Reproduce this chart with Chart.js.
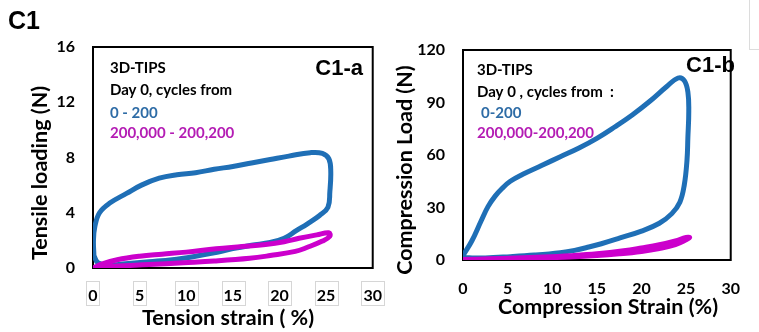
<!DOCTYPE html>
<html><head><meta charset="utf-8">
<script src="https://cdn.jsdelivr.net/npm/chart.js@4.4.1/dist/chart.umd.min.js"></script>
<style>
html,body{margin:0;padding:0;background:#fff;width:759px;height:332px;overflow:hidden;}
#wrap{position:relative;width:759px;height:332px;background:#fff;}
canvas{position:absolute;top:0;}
#cA{left:0;} #cB{left:380px;}
</style></head><body>
<div id="wrap"><canvas id="cA" width="400" height="332"></canvas><canvas id="cB" width="379" height="332"></canvas></div>
<script>
// ---- C1-a : tension, cycles 0-200 (blue) ----
const tenStrainA = [0.1, 0.05, 0.2, 0.7, 1.8, 3.6, 5.2, 7.1, 9.0, 11, 13, 15, 17, 19, 21, 23.3, 24.6, 25.3, 25.5, 25.4, 25.2, 24.3, 23, 21.8, 20.5, 19, 17, 15, 13, 11, 8.5, 6, 3.5, 1.5, 0.5, 0.1];
const tenLoadA   = [0.9, 2.0, 3.0, 4.0, 4.7, 5.4, 6.0, 6.5, 6.75, 6.9, 7.15, 7.35, 7.6, 7.85, 8.1, 8.35, 8.3, 7.9, 7.0, 5.5, 4.4, 3.8, 3.2, 2.7, 2.15, 1.85, 1.65, 1.4, 1.1, 0.85, 0.6, 0.45, 0.3, 0.2, 0.4, 0.9];
// ---- C1-a : tension, cycles 200,000-200,200 (magenta) ----
const tenStrainB = [0, 1, 2.6, 5, 7.4, 10, 13.2, 16, 18.5, 20.5, 22.1, 24, 25.3, 25.4, 24.6, 23, 21.7, 19, 16.8, 13, 9.7, 6, 2.6, 0.5, 0];
const tenLoadB   = [0, 0.3, 0.6, 0.85, 1.0, 1.15, 1.4, 1.55, 1.7, 1.9, 2.15, 2.4, 2.55, 2.3, 1.95, 1.5, 1.2, 0.9, 0.7, 0.5, 0.38, 0.25, 0.15, 0.05, 0];
// ---- C1-b : compression, cycles 0-200 (blue) ----
const compStrainA = [0, 1, 2, 2.8, 3.6, 4.4, 5.3, 6.7, 8.8, 10.9, 13, 15, 17, 19, 21, 22.8, 24.1, 24.8, 25.2, 25.3, 25.2, 25.1, 24.8, 24.3, 23.4, 22, 20, 17.6, 15.5, 14.1, 12.5, 10.9, 8, 5.3, 2.5, 0.3, 0];
const compLoadA   = [2.5, 11, 22, 30.5, 36.5, 41, 45, 49, 54, 59, 64, 69.5, 76, 83, 91, 99, 104, 102.5, 96, 85, 70, 57, 43, 33, 26.5, 21, 16.5, 12.6, 9.3, 7.4, 5.5, 4.2, 2.8, 1.9, 1.2, 1.5, 2.5];
// ---- C1-b : compression, cycles 200,000-200,200 (magenta) ----
const compStrainB = [0, 3, 6, 9, 12, 15, 17.5, 20, 22, 23.8, 25.0, 25.4, 25.0, 23.8, 22, 20, 18, 15, 12, 9, 6, 3, 0];
const compLoadB   = [0.3, 0.6, 0.9, 1.2, 1.7, 2.5, 3.5, 4.9, 6.6, 8.8, 11.5, 12.8, 12.9, 10.9, 8.7, 6.9, 5.3, 3.6, 2.5, 1.7, 1.1, 0.7, 0.3];

const xTicks = [0, 5, 10, 15, 20, 25, 30];
const yTicksA = [0, 4, 8, 12, 16];
const yTicksB = [0, 30, 60, 90, 120];
const seriesNames = ['0 - 200', '200,000 - 200,200'];

const BLUE = '#1f6fb6', MAG = '#cc00cc';
const BLUE_TXT = '#2e6ca6', MAG_TXT = '#b41cb4';
const LATO = 'Lato, "Open Sans", sans-serif';
const ARIAL = '"Liberation Sans", Arial, sans-serif';

const pts = (xs, ys) => xs.map((x, i) => ({x, y: ys[i]}));

function decor(opts) {
  return {
    id: 'decor',
    beforeDatasetsDraw(chart) {
      const ctx = chart.ctx, a = chart.chartArea;
      ctx.save();
      ctx.strokeStyle = '#000'; ctx.lineWidth = 2;
      ctx.strokeRect(a.left, a.top, a.right - a.left, a.bottom - a.top);
      ctx.restore();
    },
    afterDraw(chart) {
      const ctx = chart.ctx;
      ctx.save();
      ctx.textBaseline = 'middle';
      for (const t of opts.texts) {
        ctx.save();
        ctx.font = t.font; ctx.fillStyle = t.color || '#000';
        ctx.textAlign = t.align || 'left';
        ctx.translate(t.x, t.y);
        if (t.rot) ctx.rotate(t.rot);
        ctx.fillText(t.text, 0, 0);
        ctx.restore();
      }
      if (opts.boxes) {
        const xs = chart.scales.x;
        ctx.font = 'bold 16px ' + LATO;
        ctx.strokeStyle = '#d6d6d6'; ctx.lineWidth = 1;
        xs.ticks.forEach(tk => {
          const px = xs.getPixelForValue(tk.value);
          const w = ctx.measureText(String(tk.value)).width + 4;
          ctx.strokeRect(Math.round(px - w / 2) + 0.5, 281.5, Math.round(w), 24);
        });
      }
      if (opts.lines) {
        ctx.strokeStyle = '#dcdcdc'; ctx.lineWidth = 1;
        for (const l of opts.lines) {
          ctx.beginPath(); ctx.moveTo(l[0], l[1]); ctx.lineTo(l[2], l[3]); ctx.stroke();
        }
      }
      ctx.restore();
    }
  };
}

function makeChart(id, blueData, magData, yTicks, pad, xAxisH, yAxisW, tickPadX, plugin) {
  return new Chart(document.getElementById(id), {
    type: 'scatter',
    data: {
      datasets: [
        {label: seriesNames[0], data: blueData, showLine: true, borderColor: BLUE, backgroundColor: BLUE, borderWidth: 5, pointRadius: 0, tension: 0.4, order: 1, borderCapStyle: 'round', borderJoinStyle: 'round'},
        {label: seriesNames[1], data: magData, showLine: true, borderColor: MAG, backgroundColor: MAG, borderWidth: 5, pointRadius: 0, tension: 0.4, order: 0, borderCapStyle: 'round', borderJoinStyle: 'round'}
      ]
    },
    options: {
      responsive: false, animation: false, devicePixelRatio: 1,
      layout: {padding: pad},
      plugins: {legend: {display: false}, tooltip: {enabled: false}, title: {display: false}},
      scales: {
        x: {type: 'linear', min: xTicks[0], max: xTicks[xTicks.length - 1],
            afterBuildTicks: s => { s.ticks = xTicks.map(v => ({value: v})); },
            ticks: {padding: tickPadX, color: '#000', font: {family: LATO, size: 16, weight: 'bold'}, maxRotation: 0, autoSkip: false},
            grid: {display: false, drawTicks: false}, border: {display: false},
            afterFit: s => { s.height = xAxisH; }},
        y: {type: 'linear', min: yTicks[0], max: yTicks[yTicks.length - 1],
            afterBuildTicks: s => { s.ticks = yTicks.map(v => ({value: v})); },
            ticks: {padding: 18, color: '#000', font: {family: LATO, size: 16, weight: 'bold'}, autoSkip: false},
            grid: {display: false, drawTicks: false}, border: {display: false},
            afterFit: s => { s.width = yAxisW; }}
      }
    },
    plugins: [plugin]
  });
}

const LEG = 'bold 15px ' + LATO;

makeChart('cA', pts(tenStrainA, tenLoadA), pts(tenStrainB, tenLoadB), yTicksA,
  {top: 47, right: 22, left: 0, bottom: 0}, 64, 93, 18,
  decor({
    boxes: true,
    texts: [
      {text: 'C1', x: 8, y: 22, font: 'bold 25px ' + ARIAL},
      {text: 'C1-a', x: 363, y: 69, font: 'bold 22px ' + ARIAL, align: 'right'},
      {text: '3D-TIPS', x: 110, y: 68, font: LEG},
      {text: 'Day 0, cycles from', x: 110, y: 90, font: LEG},
      {text: seriesNames[0], x: 110, y: 113, font: LEG, color: BLUE_TXT},
      {text: seriesNames[1], x: 110, y: 133, font: LEG, color: MAG_TXT},
      {text: 'Tension strain ( %)', x: 228, y: 318, font: 'bold 21.5px ' + LATO, align: 'center'},
      {text: 'Tensile loading (N)', x: 40, y: 173, font: 'bold 21.5px ' + LATO, align: 'center', rot: -Math.PI / 2}
    ]
  }));

makeChart('cB', pts(compStrainA, compLoadA), pts(compStrainB, compLoadB), yTicksB,
  {top: 50, right: 11, left: 0, bottom: 0}, 72, 83, 19,
  decor({
    lines: [[369.5, 0, 369.5, 50], [369.5, 49.5, 379, 49.5]],
    texts: [
      {text: 'C1-b', x: 355, y: 66, font: 'bold 22px ' + ARIAL, align: 'right'},
      {text: '3D-TIPS', x: 97, y: 70, font: LEG},
      {text: 'Day 0 , cycles from  :', x: 97, y: 92, font: LEG},
      {text: '0-200', x: 101, y: 113, font: LEG, color: BLUE_TXT},
      {text: '200,000-200,200', x: 97, y: 133, font: LEG, color: MAG_TXT},
      {text: 'Compression Strain (%)', x: 228, y: 307, font: 'bold 21.5px ' + LATO, align: 'center'},
      {text: 'Compression Load (N)', x: 25, y: 170, font: 'bold 21.5px ' + LATO, align: 'center', rot: -Math.PI / 2}
    ]
  }));
</script>
</body></html>
